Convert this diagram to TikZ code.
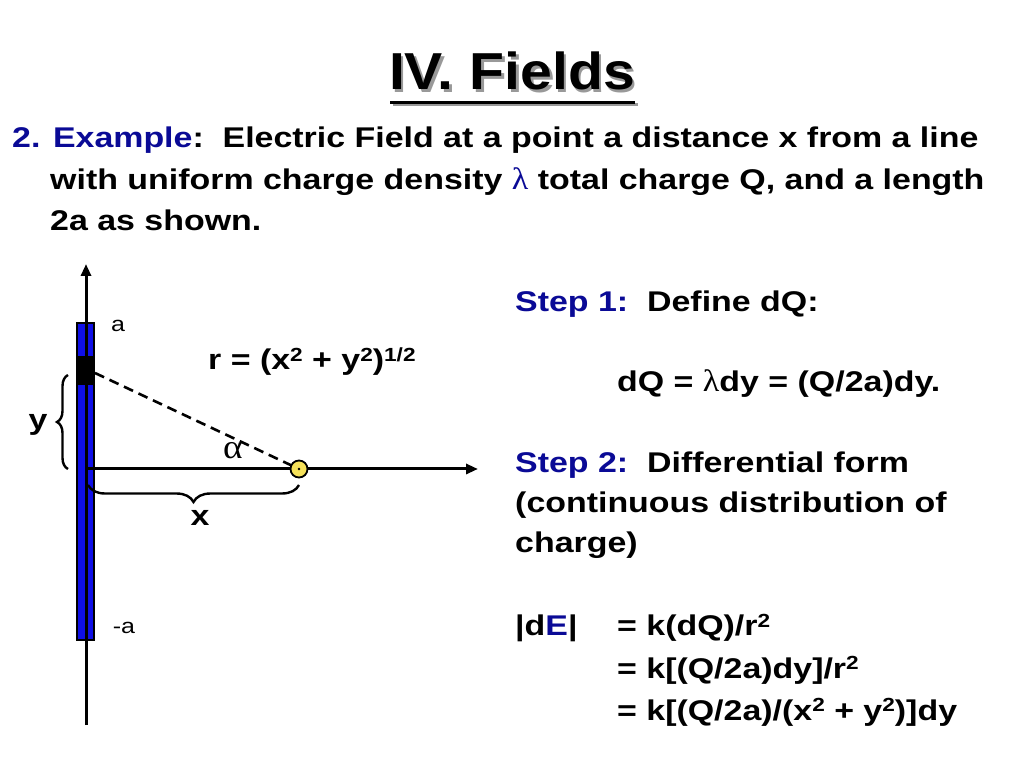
\documentclass[tikz,border=0pt]{standalone}
\usepackage{fontspec}
\setmainfont{Liberation Sans}[FakeStretch=1.19]
\newfontfamily\titlef{Liberation Sans}[FakeStretch=1.1]
\newfontfamily\symf{Liberation Serif}[FakeStretch=1.1]
\usetikzlibrary{arrows.meta,decorations.pathreplacing}
\definecolor{navy}{RGB}{10,10,150}
\definecolor{rodblue}{RGB}{15,15,230}
\definecolor{ptyellow}{RGB}{245,225,90}
\newcommand{\sups}[1]{\raisebox{0.55ex}{\fontsize{19}{19}\selectfont #1}}
\begin{document}
\begin{tikzpicture}[x=1pt,y=1pt,
  body/.style={anchor=base west,inner sep=0pt,font=\fontsize{28.5}{41}\selectfont\bfseries},
  small/.style={inner sep=0pt,font=\fontsize{21}{22}\selectfont},
  axisline/.style={line width=3pt,-{Triangle[length=12pt,width=10pt]}},
  bracestyle/.style={line width=2.4pt,decorate}]
\useasboundingbox (0,0) rectangle (1024,768);
\fill[white] (0,0) rectangle (1024,768);
% title with shadow
\fill[black!40] (392.5,661.5) rectangle (637.5,664.5);
\node[anchor=base,inner sep=0pt,font=\fontsize{52}{60}\selectfont\titlef\bfseries] (title) at (512,678) {\rlap{\hspace{2.5pt}\raisebox{-2.5pt}{\textcolor{black!40}{IV. Fields}}}IV. Fields};
\fill[black] (390,664) rectangle (635,667);
% header text
\node[body] (l1) at (12,620) {\textcolor{navy}{2. Example}:\ \ Electric Field at a point a distance x from a line};
\node[body] (l2) at (50,578) {with uniform charge density \textcolor{navy}{{\symf\mdseries\fontsize{31}{31}\selectfont λ}} total charge Q, and a length};
\node[body] (l3) at (50,537) {2a as shown.};
% rod
\filldraw[fill=rodblue,draw=black,line width=2.2pt] (77,445) rectangle (94,128);
\filldraw[fill=black,draw=black,line width=2.2pt] (77,411) rectangle (94,384);
\coordinate (rodtop) at (86,504);
\coordinate (rodbot) at (86,43);
\coordinate (origin) at (86,299);
\coordinate (xtip) at (478,299);
\coordinate (dq) at (95,395);
\draw[axisline] (rodbot) -- (rodtop);
\draw[axisline] (origin) -- (xtip);
\draw[line width=2.6pt,dash pattern=on 10pt off 6pt] (dq) -- (299,299);
\node[circle,draw=black,line width=1.8pt,fill=ptyellow,minimum size=17pt,inner sep=0pt] (pt) at (299,299) {};
\fill[black] (pt.center) circle (1.3pt);
% braces
\coordinate (yb1) at (68,299);
\coordinate (yb2) at (68,393);
\draw[bracestyle,decoration={brace,amplitude=11pt}] (yb1) -- (yb2);
\coordinate (xb1) at (299,283);
\coordinate (xb2) at (88,283);
\draw[bracestyle,decoration={brace,amplitude=17pt}] (xb1) -- (xb2);
% labels
\node[font=\fontsize{28.5}{30}\selectfont\bfseries,inner sep=0pt] (ylab) at (38,343) {y};
\node[font=\fontsize{28.5}{30}\selectfont\bfseries,inner sep=0pt] (xlab) at (200,250) {x};
\node[small] (alab) at (118,442) {a};
\node[small] (malab) at (124,140) {-a};
\node[body] (rlab) at (208,398) {r = (x\sups{2} + y\sups{2})\sups{1/2}};
\node[inner sep=0pt,font=\fontsize{34}{34}\selectfont\symf] (alpha) at (233,317) {α};
% right column
\node[body] (s1) at (515,456) {\textcolor{navy}{Step 1:}\ \ Define dQ:};
\node[body] (dqeq) at (617,376) {dQ = {\symf\mdseries\fontsize{31}{31}\selectfont λ}dy = (Q/2a)dy.};
\node[body] (s2) at (515,295) {\textcolor{navy}{Step 2:}\ \ Differential form};
\node[body] (s2b) at (515,255) {(continuous distribution of};
\node[body] (s2c) at (515,215) {charge)};
\node[body] (de) at (515,132) {|d\textcolor{navy}{E}|};
\node[body] (e1) at (617,132) {= k(dQ)/r\sups{2}};
\node[body] (e2) at (617,90) {= k[(Q/2a)dy]/r\sups{2}};
\node[body] (e3) at (617,48) {= k[(Q/2a)/(x\sups{2} + y\sups{2})]dy};
\end{tikzpicture}
\end{document}
